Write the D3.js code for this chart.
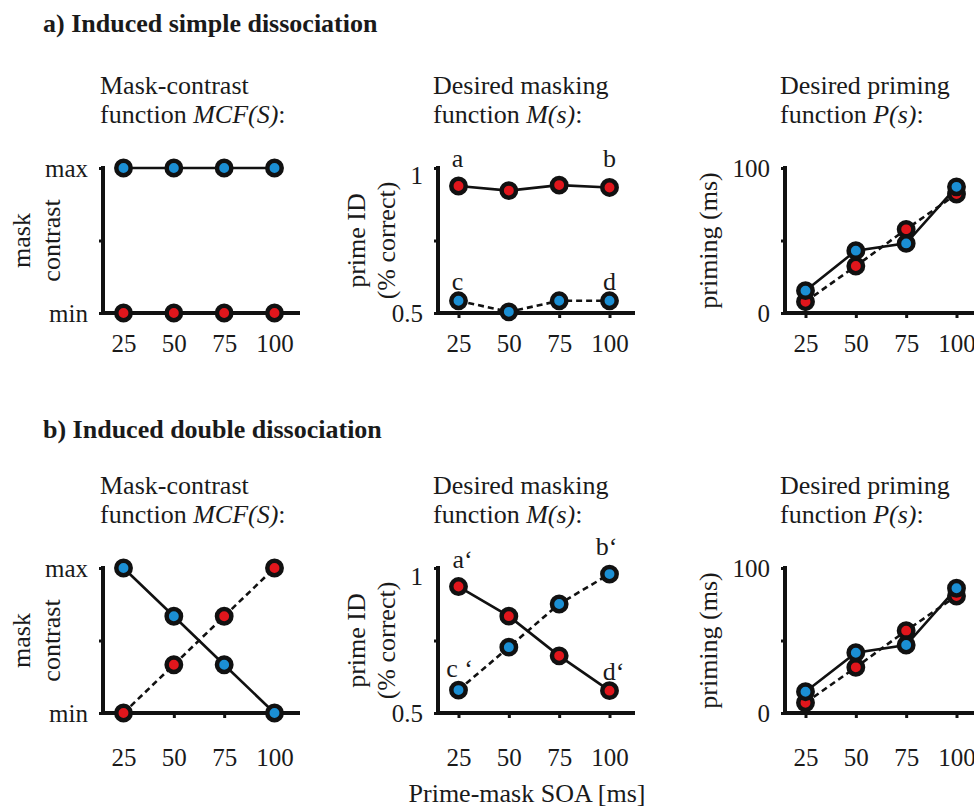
<!DOCTYPE html>
<html>
<head>
<meta charset="utf-8">
<script src="https://cdn.jsdelivr.net/npm/d3@7"></script>
<style>
  html, body { margin: 0; padding: 0; background: #fff; }
  svg { display: block; }
</style>
</head>
<body>
<script>
// Prime-mask SOA levels (ms)
const soa = [25, 50, 75, 100];

// a) Induced simple dissociation
const mcfSimpleBlue = [1, 1, 1, 1];
const mcfSimpleRed = [0, 0, 0, 0];
const maskSimpleRed = [0.938, 0.922, 0.941, 0.933];
const maskSimpleBlue = [0.542, 0.504, 0.542, 0.542];
const primeSimpleRed = [7.8, 32.4, 57.7, 82];
const primeSimpleBlue = [15.4, 43, 48, 87];

// b) Induced double dissociation
const mcfDoubleBlue = [1, 0.667, 0.333, 0];
const mcfDoubleRed = [0, 0.333, 0.667, 1];
const maskDoubleRed = [0.936, 0.834, 0.697, 0.577];
const maskDoubleBlue = [0.579, 0.727, 0.876, 0.979];
const primeDoubleRed = [7.1, 31.5, 56.8, 80.7];
const primeDoubleBlue = [14.7, 41.6, 46.9, 86];

// Axis ticks and their labels
const mcfTicks = [0, 0.5, 1];
const mcfTickLabels = ["min", "", "max"];
const maskTicks = [0.5, 0.75, 1];
const maskTickLabels = ["0.5", "", "1"];
const primeTicks = [0, 50, 100];
const primeTickLabels = ["0", "", "100"];

const sectionTitles = ["a) Induced simple dissociation", "b) Induced double dissociation"];
const xAxisTitle = "Prime-mask SOA [ms]";

const BLUE = "#1b8fd4";
const RED = "#e1161c";
const FONT = "Liberation Serif";
const INK = "#1a1a1a";

const svg = d3.select("body").append("svg")
  .attr("width", 974).attr("height", 807);

// section headings
svg.append("text").attr("x", 43).attr("y", 32)
  .attr("font-size", 26).attr("font-weight", "bold").text(sectionTitles[0]);
svg.append("text").attr("x", 43).attr("y", 438)
  .attr("font-size", 26).attr("font-weight", "bold").text(sectionTitles[1]);

// shared x-axis title
svg.append("text").attr("x", 527).attr("y", 802)
  .attr("text-anchor", "middle").attr("font-size", 26).text(xAxisTitle);

function drawPanel(p) {
  const g = svg.append("g");
  const x = d3.scaleLinear().domain([25, 100]).range([p.x0 + 20.5, p.x0 + 171.5]);
  const y = d3.scaleLinear().domain(p.yDomain).range([p.bottom, p.top]);

  // two-line panel heading
  g.append("text").attr("x", p.x0 + p.titleDx).attr("y", p.top - p.titleGap)
    .attr("font-size", 26).text(p.title);
  const l2 = g.append("text").attr("x", p.x0 + p.titleDx).attr("y", p.top - p.titleGap + 29)
    .attr("font-size", 26);
  l2.append("tspan").text("function ");
  l2.append("tspan").attr("font-style", "italic").text(p.fn);
  l2.append("tspan").text(":");

  // y ticks
  const ya = g.append("g").attr("transform", `translate(${p.x0},0)`)
    .call(d3.axisLeft(y).tickValues(p.yTicks)
      .tickFormat((d, i) => p.yTickLabels[i])
      .tickSize(4).tickPadding(11).tickSizeOuter(0));
  ya.select(".domain").remove();
  ya.selectAll("line").attr("stroke", "#111").attr("stroke-width", 3);
  ya.selectAll("text").attr("font-size", 25);
  if (p.topLabelDrop) {
    ya.selectAll("text").filter(d => d === p.yDomain[1])
      .attr("y", p.topLabelDrop);
  }

  // x ticks
  const xa = g.append("g").attr("transform", `translate(0,${p.bottom})`)
    .call(d3.axisBottom(x).tickValues(soa).tickFormat(d3.format("d"))
      .tickSize(5).tickPadding(p.xPad).tickSizeOuter(0));
  xa.select(".domain").remove();
  xa.selectAll("line").attr("stroke", "#111").attr("stroke-width", 3);
  xa.selectAll("text").attr("font-size", 25);

  // axis lines
  g.append("path")
    .attr("d", `M${p.x0},${p.top - 2}V${p.bottom}H${p.x0 + 197}`)
    .attr("fill", "none").attr("stroke", "#111").attr("stroke-width", 4);

  // y-axis title (rotated, one or two lines)
  const cy = (p.top + p.bottom) / 2;
  p.yTitle.forEach((line, i) => {
    g.append("text")
      .attr("transform", `translate(${p.x0 - p.yTitleOffsets[i]},${cy}) rotate(-90)`)
      .attr("text-anchor", "middle").attr("font-size", 26).text(line);
  });

  // series lines
  const line = d3.line().x((d, i) => x(soa[i])).y(d => y(d));
  p.series.forEach(s => {
    g.append("path").datum(s.values).attr("d", line)
      .attr("fill", "none").attr("stroke", "#111").attr("stroke-width", 2.6)
      .attr("stroke-dasharray", s.dashed ? "6,4" : null);
  });
  // markers
  p.series.forEach(s => {
    g.selectAll(null).data(s.values).enter().append("circle")
      .attr("cx", (d, i) => x(soa[i])).attr("cy", d => y(d))
      .attr("r", 7.2).attr("fill", s.color)
      .attr("stroke", "#111").attr("stroke-width", 4.5);
  });

  // letter annotations
  (p.notes || []).forEach(n => {
    g.append("text").attr("x", x(n.at) + n.dx).attr("y", p.top + n.dy)
      .attr("text-anchor", "middle").attr("font-size", 26).text(n.text);
  });
}

const rows = [
  { top: 168, bottom: 313, titleGap: 74, xPad: 16 },
  { top: 568, bottom: 713, titleGap: 74, xPad: 30 }
];

// row a
drawPanel({ ...rows[0], x0: 103, titleDx: -3, yDomain: [0, 1], yTicks: mcfTicks, yTickLabels: mcfTickLabels,
  title: "Mask-contrast", fn: "MCF(S)", yTitle: ["mask", "contrast"], yTitleOffsets: [73, 43],
  series: [{ values: mcfSimpleRed, color: RED, dashed: true }, { values: mcfSimpleBlue, color: BLUE, dashed: false }] });
drawPanel({ ...rows[0], x0: 438, titleDx: -5, yDomain: [0.5, 1], yTicks: maskTicks, yTickLabels: maskTickLabels,
  topLabelDrop: 7,
  title: "Desired masking", fn: "M(s)", yTitle: ["prime ID", "(% correct)"], yTitleOffsets: [73, 43],
  series: [{ values: maskSimpleRed, color: RED, dashed: false }, { values: maskSimpleBlue, color: BLUE, dashed: true }],
  notes: [{ text: "a", at: 25, dx: -1, dy: -1 }, { text: "b", at: 100, dx: 0, dy: -1 },
          { text: "c", at: 25, dx: -1, dy: 122 }, { text: "d", at: 100, dx: 0, dy: 122 }] });
drawPanel({ ...rows[0], x0: 785, titleDx: -5, yDomain: [0, 100], yTicks: primeTicks, yTickLabels: primeTickLabels,
  title: "Desired priming", fn: "P(s)", yTitle: ["priming (ms)"], yTitleOffsets: [68],
  series: [{ values: primeSimpleRed, color: RED, dashed: true }, { values: primeSimpleBlue, color: BLUE, dashed: false }] });

// row b
drawPanel({ ...rows[1], x0: 103, titleDx: -3, yDomain: [0, 1], yTicks: mcfTicks, yTickLabels: mcfTickLabels,
  title: "Mask-contrast", fn: "MCF(S)", yTitle: ["mask", "contrast"], yTitleOffsets: [73, 43],
  series: [{ values: mcfDoubleRed, color: RED, dashed: true }, { values: mcfDoubleBlue, color: BLUE, dashed: false }] });
drawPanel({ ...rows[1], x0: 438, titleDx: -5, yDomain: [0.5, 1], yTicks: maskTicks, yTickLabels: maskTickLabels,
  topLabelDrop: 8,
  title: "Desired masking", fn: "M(s)", yTitle: ["prime ID", "(% correct)"], yTitleOffsets: [73, 43],
  series: [{ values: maskDoubleRed, color: RED, dashed: false }, { values: maskDoubleBlue, color: BLUE, dashed: true }],
  notes: [{ text: "a\u2018", at: 25, dx: 4, dy: 0 }, { text: "b\u2018", at: 100, dx: -3, dy: -13 },
          { text: "c \u2018", at: 25, dx: 1, dy: 109 }, { text: "d\u2018", at: 100, dx: 4, dy: 112 }] });
drawPanel({ ...rows[1], x0: 785, titleDx: -5, yDomain: [0, 100], yTicks: primeTicks, yTickLabels: primeTickLabels,
  title: "Desired priming", fn: "P(s)", yTitle: ["priming (ms)"], yTitleOffsets: [68],
  series: [{ values: primeDoubleRed, color: RED, dashed: true }, { values: primeDoubleBlue, color: BLUE, dashed: false }] });

// serif face and ink for every label, including the axis tick text
svg.selectAll("text").style("font-family", FONT).style("fill", INK);
</script>
</body>
</html>
